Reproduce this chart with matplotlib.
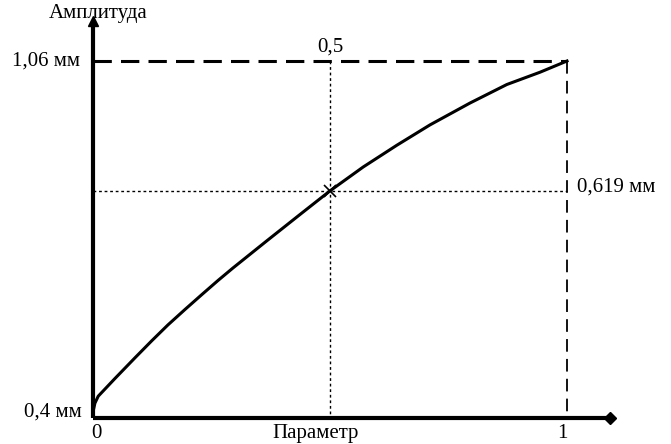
import matplotlib.pyplot as plt

# Curve (normalized: parameter 0..1, amplitude 0 -> 0.4 mm, 1 -> 1.06 mm)
param = [0.0, 0.004, 0.011, 0.046, 0.089, 0.124, 0.158, 0.194, 0.230, 0.264,
         0.295, 0.367, 0.437, 0.5, 0.570, 0.641, 0.711, 0.795, 0.873, 0.943, 1.0]
amplitude = [0.0, 0.025, 0.045, 0.095, 0.155, 0.203, 0.248, 0.292, 0.335, 0.375,
             0.410, 0.488, 0.563, 0.630, 0.698, 0.760, 0.818, 0.880, 0.933, 0.968, 1.0]

mid_x = 0.5
mid_y = 0.630
y_labels = ["0,4 мм", "1,06 мм", "0,619 мм"]
x_labels = ["0", "0,5", "1"]

plt.rcParams['font.family'] = ['Liberation Serif', 'DejaVu Serif']

fig = plt.figure(figsize=(6.71, 4.44), dpi=100)
ax = fig.add_axes([0, 0, 1, 1])
ax.set_xlim(-93 / 474, (671 - 93) / 474)
ax.set_ylim(-(444 - 412) / 351, 412 / 351)
ax.axis('off')

base = -6 / 351

# axes with arrows
ax.plot([0, 0], [base, 1.105], color='black', lw=3, solid_capstyle='butt')
ax.plot([0, 1.086], [base, base], color='black', lw=3, solid_capstyle='butt')
ax.plot(0, 1.115, marker='^', color='black', ms=7)
ax.plot(1.09, base, marker='D', color='black', ms=6)

# guide lines
ax.plot([0, 1], [1, 1], color='black', lw=2.2, dashes=(6, 3))
ax.plot([1, 1], [1, base], color='black', lw=1.3, dashes=(7, 4))
ax.plot([0, 1], [mid_y, mid_y], color='black', lw=1, dashes=(2, 2))
ax.plot([mid_x, mid_x], [1, base], color='black', lw=1, dashes=(2, 2))

# curve
ax.plot(param, amplitude, color='black', lw=2.2)
ax.plot(mid_x, mid_y, marker='x', color='black', ms=9, mew=1.2)

fs = 15
ax.text(0.01, 1.135, "Амплитуда", fontsize=fs, ha='center', va='center')
ax.text(-0.027, 1.0, y_labels[1], fontsize=fs, ha='right', va='center')
ax.text(-0.023, 0.0, y_labels[0], fontsize=fs, ha='right', va='center')
ax.text(1.021, mid_y + 0.012, y_labels[2], fontsize=fs, ha='left', va='center')
ax.text(0.008, -0.06, x_labels[0], fontsize=fs, ha='center', va='center')
ax.text(mid_x, 1.04, x_labels[1], fontsize=fs, ha='center', va='center')
ax.text(0.99, -0.06, x_labels[2], fontsize=fs, ha='center', va='center')
ax.text(0.47, -0.06, "Параметр", fontsize=fs, ha='center', va='center')

fig.savefig('out.png', dpi=100)
